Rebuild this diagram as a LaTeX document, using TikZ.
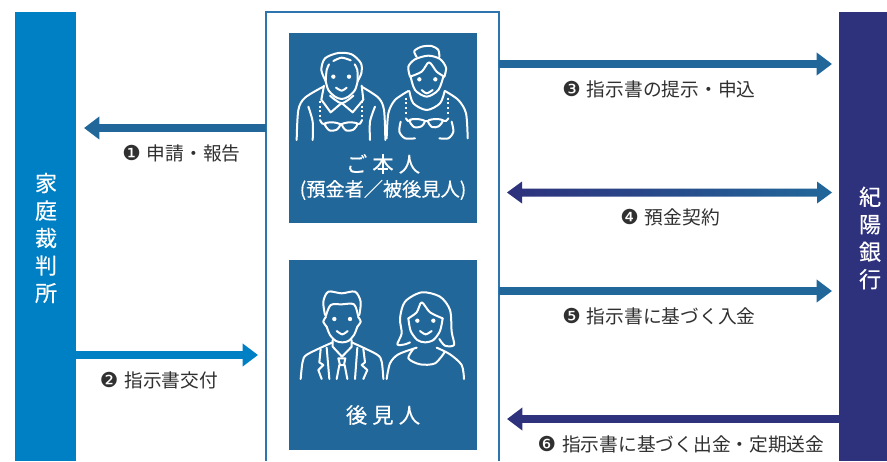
\documentclass[tikz,border=0pt]{standalone}
\usepackage{fontspec}
\setmainfont{Noto Sans CJK JP}
\newfontfamily\numfont{DejaVu Sans}
\newfontfamily\titlefont{Noto Sans CJK JP}[FakeBold=0.35]
\usetikzlibrary{arrows.meta,calc}
\definecolor{courtblue}{HTML}{0080C4}
\definecolor{bankindigo}{HTML}{2E317C}
\definecolor{steelblue}{HTML}{21679A}
\definecolor{frameblue}{HTML}{2E75AE}
\definecolor{labelgrey}{HTML}{303030}
\newcommand{\num}[1]{{\numfont\fontsize{15.5pt}{15.5pt}\selectfont #1}\hspace{4.5pt}}
\tikzset{
  bar/.style={draw=none,inner sep=0pt,text=white,align=center,font=\titlefont\fontsize{16.5pt}{20.6pt}\selectfont},
  person/.style={draw=none,fill=steelblue,inner sep=0pt,minimum width=141pt,minimum height=142.5pt},
  boxtitle/.style={inner sep=0pt,text=white,align=center},
  step label/.style={inner sep=0pt,text=labelgrey,font=\fontsize{14.05pt}{15pt}\selectfont},
  flow/.style={line width=6pt,-{Triangle[length=11.5pt,width=16.5pt]}},
  figure line/.style={draw=white,line width=1.5pt,line cap=round,line join=round},
  pearls/.style={draw=white,line width=1.5pt,dash pattern=on 1.5pt off 2pt},
  zoomed/.style={x=0.25pt,y=-0.25pt}
}
\begin{document}
\begin{tikzpicture}[x=0.75pt,y=-0.75pt]
\useasboundingbox (0,0) rectangle (887,461);
\fill[white] (0,0) rectangle (887,461);

% parties
\node[bar,fill=courtblue,minimum width=45.75pt,minimum height=336.75pt] (court) at (45.5,236.5) {};
\node[bar,fill=bankindigo,minimum width=36pt,minimum height=336.75pt] (bank) at (863,236.5) {};
\node[bar] (courtname) at (46,238) {家\\庭\\裁\\判\\所};
\node[bar] (bankname) at (870,238) {紀\\陽\\銀\\行};

% central frame, open at the foot
\node[inner sep=0pt,minimum width=174.75pt,minimum height=336.75pt] (frame) at (382.5,236.5) {};
\draw[frameblue,line width=1.5pt] (frame.south west) -- (frame.north west) -- (frame.north east) -- (frame.south east);

\node[person] (principal) at (383,128) {};
\node[person] (guardian) at (383,355) {};
\node[boxtitle,font=\titlefont\fontsize{16pt}{18pt}\selectfont\addfontfeature{LetterSpace=24}] (principalname) at (383,164) {ご本人};
\node[boxtitle,font=\titlefont\fontsize{14.4pt}{16pt}\selectfont] (principalsub) at (383,190) {(預金者／被後見人)};
\node[boxtitle,font=\titlefont\fontsize{16pt}{18pt}\selectfont\addfontfeature{LetterSpace=24}] (guardianname) at (383,415) {後見人};

% elderly man
\begin{scope}[shift={(280,25)},zoomed]
\draw[figure line] plot[smooth] coordinates {(137,168) (124,135) (135,100) (175,84) (215,88) (243,115) (244,145) (233,168)};
\draw[figure line] plot[smooth] coordinates {(137,168) (140,135) (147,118)};
\draw[figure line] plot[smooth] coordinates {(160,108) (185,98) (212,106)};
\draw[figure line] plot[smooth] coordinates {(233,168) (232,135) (224,118)};
\draw[figure line] plot[smooth] coordinates {(137,168) (145,195) (165,215) (185,222) (205,215) (225,195) (233,168)};
\fill[white] (160,155) circle[radius=6.5] (207,155) circle[radius=6.5];
\draw[figure line] plot[smooth] coordinates {(168,188) (185,197) (200,188)};
\draw[figure line] plot[smooth] coordinates {(150,212) (185,235) (220,212)};
\draw[figure line] (132,182) -- (124,224) -- (152,262) -- (185,234) -- (218,262) -- (250,224) -- (245,182);
\draw[figure line] plot[smooth] coordinates {(130,185) (75,218) (55,255) (50,345)};
\draw[figure line] plot[smooth] coordinates {(245,185) (295,218) (312,255) (316,345)};
\draw[figure line] plot[smooth] coordinates {(85,245) (98,290) (98,345)};
\draw[figure line] plot[smooth] coordinates {(285,245) (270,290) (270,345)};
\draw[pearls] (120,228) -- (120,278);
\draw[pearls] (246,228) -- (246,278);
\draw[figure line] plot[smooth] coordinates {(120,285) (127,296) (138,296)};
\draw[figure line] plot[smooth] coordinates {(246,285) (240,296) (230,296)};
\draw[figure line] plot[smooth cycle] coordinates {(134,296) (158,292) (180,298) (170,314) (148,316)};
\draw[figure line] plot[smooth cycle] coordinates {(186,298) (208,292) (232,296) (220,314) (198,316)};
\draw[figure line] (180,298) -- (186,298);
\end{scope}

% elderly woman
\begin{scope}[shift={(280,25)},zoomed]
\draw[figure line] plot[smooth] coordinates {(410,96) (403,78) (425,65) (455,63) (475,75) (478,96)};
\draw[figure line] plot[smooth] coordinates {(390,155) (385,125) (405,103) (445,92) (480,102) (498,128) (493,155)};
\draw[figure line] plot[smooth] coordinates {(390,155) (425,140) (447,112) (470,140) (493,155)};
\draw[figure line] plot[smooth] coordinates {(392,155) (405,195) (440,215) (475,195) (490,155)};
\fill[white] (418,163) circle[radius=6.5] (466,163) circle[radius=6.5];
\draw[figure line] plot[smooth] coordinates {(425,195) (440,205) (458,195)};
\draw[figure line] plot[smooth] coordinates {(388,198) (400,235) (440,255) (480,235) (494,198)};
\draw[figure line] plot[smooth] coordinates {(385,198) (345,225) (325,265) (320,340)};
\draw[figure line] plot[smooth] coordinates {(495,198) (535,225) (558,265) (563,340)};
\draw[pearls] (378,218) -- (378,272);
\draw[pearls] (505,218) -- (505,272);
\draw[figure line] plot[smooth] coordinates {(378,280) (384,288) (392,286)};
\draw[figure line] plot[smooth] coordinates {(505,280) (498,288) (488,286)};
\draw[figure line] plot[smooth cycle] coordinates {(388,286) (410,282) (434,288) (424,304) (402,306)};
\draw[figure line] plot[smooth cycle] coordinates {(444,288) (464,282) (488,286) (476,304) (456,306)};
\draw[figure line] (434,288) -- (444,288);
\draw[figure line] plot[smooth] coordinates {(362,290) (358,320) (375,340) (405,340)};
\draw[figure line] plot[smooth] coordinates {(515,290) (520,320) (505,340) (478,340)};
\end{scope}

% guardian, man
\begin{scope}[shift={(280,255)},zoomed]
\draw[figure line] plot[smooth] coordinates {(135,180) (130,140) (145,110) (185,115) (225,110) (242,140) (238,180)};
\draw[figure line] plot[smooth] coordinates {(138,182) (152,150) (185,148) (222,148) (234,182)};
\draw[figure line] plot[smooth] coordinates {(138,185) (130,200) (140,215)};
\draw[figure line] plot[smooth] coordinates {(234,185) (242,200) (232,215)};
\draw[figure line] plot[smooth] coordinates {(140,215) (150,240) (168,258) (187,262) (205,258) (222,240) (232,215)};
\fill[white] (163,192) circle[radius=6.5] (210,192) circle[radius=6.5];
\draw[figure line] plot[smooth] coordinates {(170,228) (187,238) (203,228)};
\draw[figure line] (158,255) -- (158,275) -- (186,305) -- (215,275) -- (215,255);
\draw[figure line] plot[smooth] coordinates {(62,372) (68,320) (82,298) (158,262)};
\draw[figure line] plot[smooth] coordinates {(310,372) (305,320) (290,298) (215,262)};
\draw[figure line] (122,282) -- (118,322) -- (130,330) -- (115,345) -- (125,372);
\draw[figure line] (250,282) -- (255,322) -- (245,330) -- (262,345) -- (250,372);
\draw[figure line] (140,278) -- (148,372);
\draw[figure line] (232,278) -- (225,372);
\draw[figure line] (175,310) -- (196,310) -- (192,330) -- (180,330) -- cycle;
\draw[figure line] (178,330) -- (170,372);
\draw[figure line] (194,330) -- (202,372);
\end{scope}

% guardian, woman
\begin{scope}[shift={(280,255)},zoomed]
\draw[figure line] plot[smooth] coordinates {(390,262) (375,268) (352,268) (365,235) (360,190) (375,140) (425,112) (480,125) (510,165) (515,230) (522,270) (495,272) (478,252)};
\draw[figure line] plot[smooth] coordinates {(385,190) (410,172) (425,142) (450,172) (488,190)};
\draw[figure line] plot[smooth] coordinates {(385,190) (392,228) (412,255) (435,262) (460,255) (480,228) (488,190)};
\fill[white] (412,197) circle[radius=6.5] (460,197) circle[radius=6.5];
\draw[figure line] plot[smooth] coordinates {(420,228) (437,238) (455,228)};
\draw[figure line] plot[smooth] coordinates {(320,372) (330,325) (355,298) (410,278)};
\draw[figure line] plot[smooth] coordinates {(552,372) (545,330) (510,298) (470,278)};
\draw[figure line] plot[smooth] coordinates {(400,282) (385,310) (420,328) (465,325) (495,290)};
\end{scope}

% anchors for the free arrow ends
\coordinate (tip1) at (84,128);
\coordinate (tip2) at (258,355);
\coordinate (tip3) at (832,64);
\coordinate (tip4l) at (507,192.5);
\coordinate (tip4r) at (832,192.5);
\coordinate (tip5) at (832,291);
\coordinate (tip6) at (507,419);

% flows
\draw[flow,steelblue] (frame.west |- tip1) -- (tip1);
\draw[flow,courtblue] (court.east |- tip2) -- (tip2);
\draw[flow,steelblue] (frame.east |- tip3) -- (tip3);
\draw[flow,steelblue] (frame.east |- tip5) -- (tip5);
\draw[flow,bankindigo] (bank.west |- tip6) -- (tip6);
\path[left color=bankindigo,right color=steelblue]
  (tip4l) -- ++(15,-11) -- ++(0,7) -- ($(tip4r)+(-15,-4)$) -- ++(0,-7) -- (tip4r)
  -- ++(-15,11) -- ++(0,-7) -- ($(tip4l)+(15,4)$) -- ++(0,7) -- cycle;

% step labels
\node[step label] (s1) at (181.5,153) {\num{❶}申請・報告};
\node[step label] (s2) at (159,380) {\num{❷}指示書交付};
\node[step label] (s3) at (659,89) {\num{❸}指示書の提示・申込};
\node[step label] (s4) at (670,217) {\num{❹}預金契約};
\node[step label] (s5) at (659,316) {\num{❺}指示書に基づく入金};
\node[step label] (s6) at (681,444) {\num{❻}指示書に基づく出金・定期送金};
\end{tikzpicture}
\end{document}
